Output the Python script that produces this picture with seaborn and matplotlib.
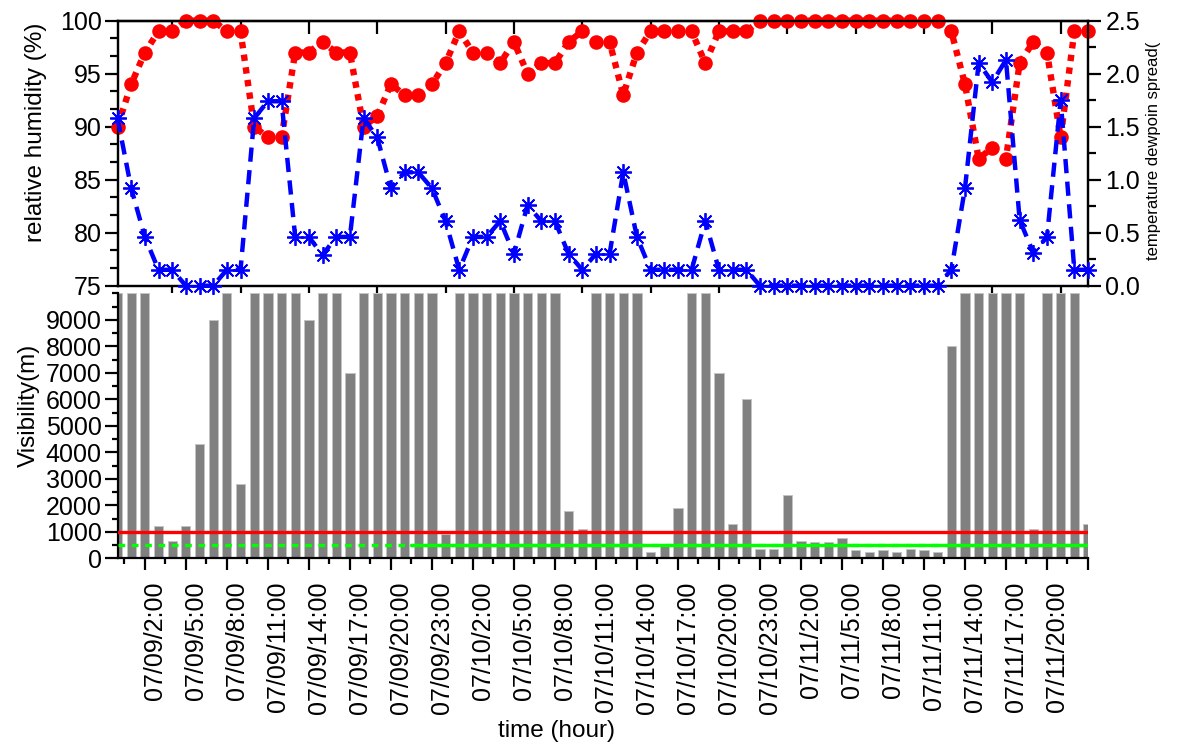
import matplotlib
matplotlib.use("Agg")
import matplotlib.pyplot as plt
import matplotlib.transforms as mtransforms
from matplotlib.ticker import MultipleLocator, FixedLocator, NullFormatter
import seaborn as sns
import pandas as pd

# ---------------- data (hourly, 07/09 0:00 .. 07/11 23:00) ----------------
hour_index = list(range(72))

relative_humidity = [90, 94, 97, 99, 99, 100, 100, 100, 99, 99,
                     90, 89, 89, 97, 97, 98, 97, 97, 90, 91,
                     94, 93, 93, 94, 96, 99, 97, 97, 96, 98,
                     95, 96, 96, 98, 99, 98, 98, 93, 97, 99,
                     99, 99, 99, 96, 99, 99, 99, 100, 100, 100,
                     100, 100, 100, 100, 100, 100, 100, 100, 100, 100,
                     100, 99, 94, 87, 88, 87, 96, 98, 97, 89,
                     99, 99]

dewpoint_spread = [1.58, 0.92, 0.46, 0.15, 0.15, 0.0, 0.0, 0.0, 0.15, 0.15,
                   1.58, 1.74, 1.74, 0.46, 0.46, 0.29, 0.46, 0.46, 1.58, 1.40,
                   0.92, 1.07, 1.07, 0.92, 0.61, 0.15, 0.46, 0.46, 0.61, 0.30,
                   0.76, 0.61, 0.61, 0.30, 0.15, 0.30, 0.30, 1.07, 0.46, 0.15,
                   0.15, 0.15, 0.15, 0.61, 0.15, 0.15, 0.15, 0.0, 0.0, 0.0,
                   0.0, 0.0, 0.0, 0.0, 0.0, 0.0, 0.0, 0.0, 0.0, 0.0,
                   0.0, 0.15, 0.92, 2.10, 1.92, 2.13, 0.62, 0.31, 0.46, 1.75,
                   0.15, 0.15]

visibility = [10000, 10000, 10000, 1200, 650, 1200, 4300, 9000, 10000, 2800,
              10000, 10000, 10000, 10000, 9000, 10000, 10000, 7000, 10000, 10000,
              10000, 10000, 10000, 10000, 900, 10000, 10000, 10000, 10000, 10000,
              10000, 10000, 10000, 1800, 1100, 10000, 10000, 10000, 10000, 250,
              500, 1900, 10000, 10000, 7000, 1300, 6000, 350, 350, 2400,
              650, 600, 600, 750, 300, 250, 300, 250, 350, 300,
              250, 8000, 10000, 10000, 10000, 10000, 10000, 1100, 10000, 10000,
              10000, 1300]

fog_threshold = 1000
dense_fog_threshold = 500
dense_fog_solid_from = 21.5

time_tick_positions = [2, 5, 8, 11, 14, 17, 20, 23, 26, 29, 32, 35, 38, 41,
                       44, 47, 50, 53, 56, 59, 62, 65, 68, 71]
time_tick_labels = ["07/09/2:00", "07/09/5:00", "07/09/8:00", "07/09/11:00",
                    "07/09/14:00", "07/09/17:00", "07/09/20:00", "07/09/23:00",
                    "07/10/2:00", "07/10/5:00", "07/10/8:00", "07/10/11:00",
                    "07/10/14:00", "07/10/17:00", "07/10/20:00", "07/10/23:00",
                    "07/11/2:00", "07/11/5:00", "07/11/8:00", "07/11/11:00",
                    "07/11/14:00", "07/11/17:00", "07/11/20:00", ""]

df = pd.DataFrame({"hour": hour_index, "rh": relative_humidity,
                   "spread": dewpoint_spread, "vis": visibility})

# ---------------- style ----------------
sns.set_theme(style="white")
plt.rcParams["font.family"] = ["Liberation Sans", "DejaVu Sans"]
plt.rcParams["axes.linewidth"] = 1.6
plt.rcParams["axes.edgecolor"] = "black"
plt.rcParams["text.color"] = "black"
plt.rcParams["axes.labelcolor"] = "black"
plt.rcParams["xtick.color"] = "black"
plt.rcParams["ytick.color"] = "black"

TICK_FS = 18
LABEL_FS = 17.5

fig = plt.figure(figsize=(11.77, 7.47), dpi=100)
L, W = 117.5 / 1177, (1088 - 117.5) / 1177
ax1 = fig.add_axes([L, 1 - 285.7 / 747, W, 265 / 747])
ax2 = fig.add_axes([L, 1 - 558.3 / 747, W, 265 / 747])
ax1r = ax1.twinx()

# ---------------- top panel ----------------
sns.lineplot(data=df, x="hour", y="rh", ax=ax1, color="red", lw=4.6,
             linestyle=(0, (1.0, 1.0)), marker="o", markersize=10.5,
             markeredgewidth=0, markerfacecolor="red", clip_on=False,
             dash_capstyle="butt", zorder=3)
sns.lineplot(data=df, x="hour", y="spread", ax=ax1r, color="blue", lw=3.2,
             linestyle=(0, (3.2, 1.9)), marker=(8, 2, 0), markersize=12,
             markeredgewidth=1.3, markeredgecolor="blue", clip_on=False,
             zorder=3)

ax1.set_xlim(0, 71)
ax1.set_ylim(75, 100)
ax1r.set_ylim(0, 2.5)
ax1.set_xlabel("")
ax1r.set_xlabel("")
ax1.set_ylabel("relative humidity (%)", fontsize=LABEL_FS)
ax1.yaxis.set_label_coords(-0.0726, 0.58)
ax1r.set_ylabel("temperature dewpoin spread(", fontsize=12)
ax1r.yaxis.set_label_coords(1.060, 0.508)

ax1.yaxis.set_major_locator(MultipleLocator(5))
ax1.yaxis.set_minor_locator(MultipleLocator(5 / 3))
ax1r.yaxis.set_minor_locator(MultipleLocator(0.25))
ax1r.set_yticks([0, 0.5, 1.0, 1.5, 2.0, 2.5])
ax1r.set_yticklabels(["0.0", "0.5", "1.0", "1.5", "2.0", "2.5"])

ax1.xaxis.set_major_locator(FixedLocator([9, 19, 29, 39, 49, 59, 69]))
ax1.xaxis.set_minor_locator(FixedLocator([4, 14, 24, 34, 44, 54, 64]))
ax1.xaxis.set_major_formatter(NullFormatter())
ax1.tick_params(axis="x", which="major", bottom=True, top=False,
                direction="out", length=9.5, width=1.6)
ax1.tick_params(axis="x", which="minor", bottom=True, top=False,
                direction="out", length=5.5, width=1.6)
sec = ax1.secondary_xaxis("top")
sec.xaxis.set_major_locator(FixedLocator([9, 19, 29, 39, 49, 59, 69]))
sec.xaxis.set_minor_locator(FixedLocator([4, 14, 24, 34, 44, 54, 64]))
sec.xaxis.set_major_formatter(NullFormatter())
sec.tick_params(axis="x", which="major", direction="in", length=9.5, width=1.6)
sec.tick_params(axis="x", which="minor", direction="in", length=9.5, width=1.6)
sec.spines["top"].set_linewidth(1.6)

ax1.tick_params(axis="y", which="major", left=True, direction="out",
                length=9.5, width=1.6, labelsize=TICK_FS, pad=2)
ax1.tick_params(axis="y", which="minor", left=True, direction="out",
                length=5.5, width=1.6)
ax1r.tick_params(axis="y", which="major", right=True, direction="out",
                 length=9.5, width=1.6, labelsize=TICK_FS, pad=3)
ax1r.tick_params(axis="y", which="minor", right=True, direction="out",
                 length=5.5, width=1.6)
for sp in ax1.spines.values():
    sp.set_visible(True)
    sp.set_linewidth(1.6)

# ---------------- bottom panel ----------------
sns.barplot(data=df, x="hour", y="vis", ax=ax2, color="#808080",
            saturation=1, width=0.68, native_scale=True,
            edgecolor="#c4c4c4", linewidth=0.7, zorder=2)
ax2.axhline(fog_threshold, color="#ff0000", lw=2.4, zorder=5)
# dashed green threshold over the whole span, solid over the fog period
ax2.axhline(dense_fog_threshold, color="#00ff00", lw=2.4, zorder=4,
            linestyle=(0, (2.0, 2.0)))
ax2.plot([dense_fog_solid_from, hour_index[-1]],
         [dense_fog_threshold, dense_fog_threshold],
         color="#00ff00", lw=2.4, zorder=4)

ax2.set_xlim(0, 71)
ax2.set_ylim(0, 10000)
ax2.set_ylabel("Visibility(m)", fontsize=LABEL_FS)
ax2.yaxis.set_label_coords(-0.0796, 0.578)
ax2.set_xlabel("time (hour)", fontsize=LABEL_FS)
ax2.xaxis.set_label_coords(0.452, -0.61)

ax2.yaxis.set_minor_locator(MultipleLocator(500))
ax2.set_yticks(range(0, 10000, 1000))
ax2.set_yticklabels([str(v) for v in range(0, 10000, 1000)])
ax2.tick_params(axis="y", which="major", left=True, direction="out",
                length=9.5, width=1.6, labelsize=TICK_FS, pad=2)
ax2.tick_params(axis="y", which="minor", left=True, direction="out",
                length=4.5, width=1.6)

ax2.set_xticks(time_tick_positions)
ax2.set_xticklabels(time_tick_labels, rotation=90, fontsize=TICK_FS,
                    ha="center", va="top")
ax2.xaxis.set_minor_locator(FixedLocator([p - 1.5 for p in time_tick_positions]))
ax2.tick_params(axis="x", which="major", bottom=True, direction="out",
                length=8.5, width=1.6, pad=8)
ax2.tick_params(axis="x", which="minor", bottom=True, direction="out",
                length=4.5, width=1.6)
offset = mtransforms.ScaledTranslation(10 / 100, 0, fig.dpi_scale_trans)
for lab in ax2.get_xticklabels():
    lab.set_transform(lab.get_transform() + offset)

for side in ["top", "right"]:
    ax2.spines[side].set_visible(False)
for side in ["left", "bottom"]:
    ax2.spines[side].set_linewidth(1.6)
ax2.grid(False)
ax1.grid(False)
ax1r.grid(False)

fig.savefig("out.png", dpi=100)
